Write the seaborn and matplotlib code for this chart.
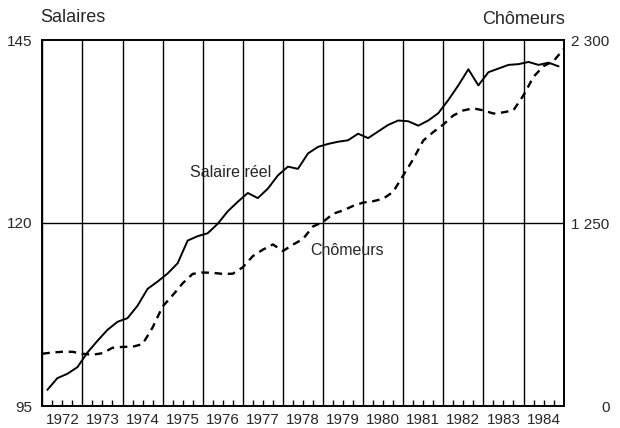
import numpy as np
import pandas as pd
import seaborn as sns
import matplotlib.pyplot as plt

# ======================
# Data
# ======================

annees = list(range(1972, 1986))
labels_annees = [str(a) for a in range(1972, 1985)]

# salaire reel, one value per quarter 1972Q1 .. 1984Q4
salaire_reel = [
    97.2, 98.8, 99.4, 100.3, 102.3, 103.9, 105.4, 106.5,
    107.0, 108.7, 111.0, 112.0, 113.1, 114.5, 117.6, 118.2,
    118.6, 119.9, 121.6, 122.9, 124.1, 123.4, 124.7, 126.5,
    127.7, 127.4, 129.5, 130.4, 130.8, 131.1, 131.3, 132.2,
    131.6, 132.5, 133.4, 134.0, 133.9, 133.3, 134.0, 135.0,
    136.8, 138.8, 141.0, 138.8, 140.6, 141.1, 141.6, 141.7,
    142.0, 141.6, 141.9, 141.4
]

# chomeurs (milliers), start of each quarter 1972Q1 .. 1985Q1
chomeurs = [
    500, 507, 511, 511, 500, 494, 503, 534,
    539, 540, 555, 650, 771, 835, 904, 958,
    966, 964, 958, 959, 996, 1060, 1097, 1127,
    1089, 1126, 1158, 1230, 1256, 1303, 1322, 1348,
    1367, 1375, 1389, 1429, 1523, 1616, 1723, 1772,
    1815, 1867, 1896, 1908, 1896, 1878, 1885, 1897,
    1983, 2089, 2150, 2179, 2248
]

ticks_salaires = [95, 120, 145]
ticks_chomeurs = [200, 1250, 2300]
labels_chomeurs = ["0", "1 250", "2 300"]

# ======================
# Time axis
# ======================

q_sal = pd.period_range("1972Q1", "1984Q4", freq="Q")
t_sal = [p.year + (p.quarter - 0.5) / 4 for p in q_sal]

q_cho = pd.period_range("1972Q1", "1985Q1", freq="Q")
t_cho = [p.year + (p.quarter - 1) / 4 for p in q_cho]

df_sal = pd.DataFrame({"t": t_sal, "salaire": salaire_reel})
df_cho = pd.DataFrame({"t": t_cho, "chomeurs": chomeurs})

# ======================
# Style
# ======================

sns.set_theme(style="white")
plt.rcParams["font.family"] = ["Liberation Sans", "DejaVu Sans"]
plt.rcParams["axes.edgecolor"] = "black"
plt.rcParams["axes.linewidth"] = 1.2

fig = plt.figure(figsize=(6.2, 4.28), dpi=100)
ax = fig.add_axes([42.3 / 620, 22 / 428, 521.3 / 620, 366 / 428])

# ======================
# Grid lines
# ======================

for a in annees:
    ax.axvline(a, color="black", linewidth=1.0, zorder=1)
ax.axhline(ticks_salaires[1], color="black", linewidth=1.0, zorder=1)

# ======================
# Salaire reel (left axis)
# ======================

sns.lineplot(data=df_sal, x="t", y="salaire", ax=ax,
             color="black", linewidth=1.4, zorder=3)

ax.set_xlim(annees[0], annees[-1])
ax.set_ylim(ticks_salaires[0], ticks_salaires[-1])
ax.set_yticks(ticks_salaires)
ax.set_yticklabels([str(v) for v in ticks_salaires], fontsize=11)
ax.tick_params(axis="y", length=0, pad=7)

mid = [a + 0.5 for a in annees[:-1]]
quarts = [a + q for a in annees[:-1] for q in (0.25, 0.75)]
ax.set_xticks(mid)
ax.set_xticklabels(labels_annees, fontsize=11)
ax.set_xticks(quarts, minor=True)
ax.tick_params(axis="x", which="both", direction="in", length=4,
               width=1.0, color="black", pad=5, bottom=True)
ax.set_xlabel("")
ax.set_ylabel("")

# ======================
# Chomeurs (right axis)
# ======================

ax2 = ax.twinx()
sns.lineplot(data=df_cho, x="t", y="chomeurs", ax=ax2,
             color="black", linewidth=1.7, linestyle=(0, (3.2, 2.4)), zorder=3)
ax2.set_ylim(ticks_chomeurs[0], ticks_chomeurs[-1])
ax2.set_yticks(ticks_chomeurs)
ax2.set_yticklabels(labels_chomeurs, fontsize=11, ha="right")
ax2.tick_params(axis="y", length=0, pad=33)
ax2.set_ylabel("")
ax2.grid(False)

# ======================
# Text
# ======================

fig.text(40 / 620, 1 - 18 / 428, "Salaires", fontsize=13, va="center", ha="left")
fig.text(565 / 620, 1 - 20 / 428, "Chômeurs", fontsize=13, va="center", ha="right")

ax.text(1976.7, 126.9, "Salaire réel", fontsize=11.5, ha="center", va="center")
ax2.text(1979.6, 1094, "Chômeurs", fontsize=11.5, ha="center", va="center")

fig.savefig("out.png", dpi=100, facecolor="white")
plt.close()
